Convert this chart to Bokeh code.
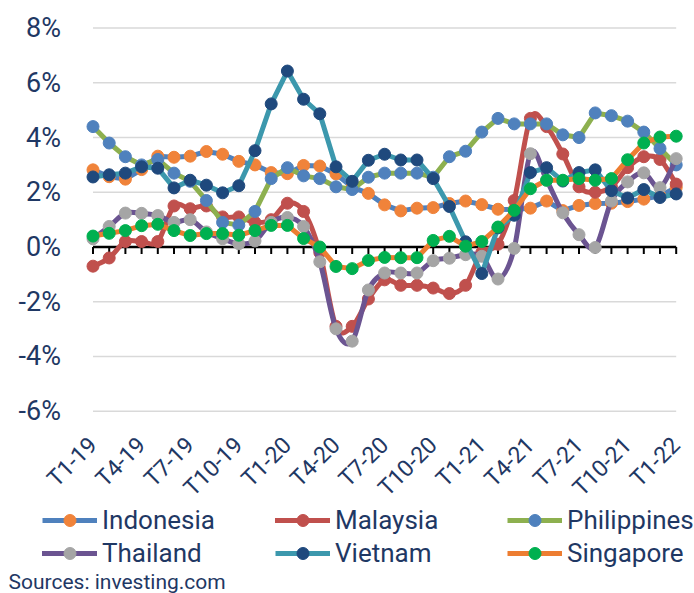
import math
from bokeh.plotting import figure
from bokeh.models import (Range1d, FixedTicker, PrintfTickFormatter, Legend,
                          LegendItem, Label, LinearAxis)
from bokeh.embed import file_html
from bokeh.resources import INLINE

# ---------------- data ----------------
months = ["T1-19", "T2-19", "T3-19", "T4-19", "T5-19", "T6-19", "T7-19", "T8-19",
          "T9-19", "T10-19", "T11-19", "T12-19",
          "T1-20", "T2-20", "T3-20", "T4-20", "T5-20", "T6-20", "T7-20", "T8-20",
          "T9-20", "T10-20", "T11-20", "T12-20",
          "T1-21", "T2-21", "T3-21", "T4-21", "T5-21", "T6-21", "T7-21", "T8-21",
          "T9-21", "T10-21", "T11-21", "T12-21",
          "T1-22"]
tick_labels = ["T1-19", "T4-19", "T7-19", "T10-19", "T1-20", "T4-20", "T7-20",
               "T10-20", "T1-21", "T4-21", "T7-21", "T10-21", "T1-22"]
y_ticks = [-6, -4, -2, 0, 2, 4, 6, 8]

indonesia = [2.82, 2.57, 2.48, 2.83, 3.32, 3.28, 3.32, 3.49, 3.39, 3.13, 3.00, 2.72,
             2.68, 2.98, 2.96, 2.67, 2.19, 1.96, 1.54, 1.32, 1.42, 1.44, 1.59, 1.68,
             1.55, 1.38, 1.37, 1.42, 1.68, 1.33, 1.52, 1.59, 1.60, 1.66, 1.75, 1.87,
             2.18]
malaysia = [-0.7, -0.4, 0.2, 0.2, 0.2, 1.5, 1.4, 1.5, 1.1, 1.1, 0.9, 1.0,
            1.6, 1.3, -0.2, -2.9, -2.9, -1.9, -1.2, -1.4, -1.4, -1.5, -1.7, -1.4,
            -0.2, 0.1, 1.7, 4.7, 4.4, 3.4, 2.2, 2.0, 2.2, 2.9, 3.3, 3.2,
            2.3]
philippines = [4.4, 3.8, 3.3, 3.0, 3.2, 2.7, 2.4, 1.7, 0.9, 0.8, 1.3, 2.5,
               2.9, 2.6, 2.5, 2.2, 2.1, 2.55, 2.7, 2.7, 2.7, 2.55, 3.3, 3.5,
               4.2, 4.7, 4.5, 4.5, 4.5, 4.1, 4.0, 4.9, 4.8, 4.6, 4.2, 3.6,
               3.0]
thailand = [0.3, 0.75, 1.24, 1.23, 1.15, 0.9, 1.0, 0.55, 0.3, 0.12, 0.22, 0.9,
            1.08, 0.75, -0.54, -2.99, -3.44, -1.57, -0.95, -0.95, -0.95, -0.5, -0.41, -0.28,
            -0.34, -1.17, -0.05, 3.41, 2.44, 1.25, 0.45, -0.02, 1.68, 2.38, 2.71, 2.17,
            3.23]
vietnam = [2.56, 2.64, 2.70, 2.93, 2.88, 2.16, 2.44, 2.26, 1.98, 2.24, 3.52, 5.23,
           6.43, 5.40, 4.87, 2.93, 2.40, 3.17, 3.39, 3.18, 3.18, 2.50, 1.48, 0.19,
           -0.97, 0.70, 1.16, 2.72, 2.90, 2.41, 2.72, 2.82, 2.06, 1.79, 2.10, 1.81,
           1.94]
singapore = [0.4, 0.5, 0.6, 0.78, 0.83, 0.6, 0.42, 0.49, 0.49, 0.43, 0.6, 0.79,
             0.79, 0.31, 0.0, -0.71, -0.79, -0.49, -0.38, -0.39, -0.39, 0.24, 0.39, 0.03,
             0.2, 0.73, 1.34, 2.13, 2.44, 2.44, 2.5, 2.44, 2.5, 3.19, 3.8, 4.02,
             4.05]

# ---------------- layout geometry (pixels) ----------------
W, H = 694, 593
PLOT_L, PLOT_R = 92.5, 675.7      # x pixel of first / last month
PLOT_T, PLOT_B = 27.6, 410.7      # y pixel of top / bottom gridline

FONT = "Roboto"
NAVY = "#1F3864"
xs = list(range(len(months)))

px_per_x = (PLOT_R - PLOT_L) / (xs[-1] - xs[0])
px_per_y = (PLOT_B - PLOT_T) / (y_ticks[-1] - y_ticks[0])
x_start = xs[0] - PLOT_L / px_per_x
x_end = xs[-1] + (W - PLOT_R) / px_per_x
y_end = y_ticks[-1] + PLOT_T / px_per_y
y_start = y_ticks[0] - (H - PLOT_B) / px_per_y

series = [
    ("Indonesia", indonesia, "#4F81BD", "#F0833A", False),
    ("Malaysia", malaysia, "#C0504D", "#C0504D", True),
    ("Philippines", philippines, "#8DB04F", "#4F81BD", False),
    ("Thailand", thailand, "#6B5491", "#A5A5A5", True),
    ("Vietnam", vietnam, "#3C98AD", "#1F497D", False),
    ("Singapore", singapore, "#ED7D31", "#00B050", False),
]

p = figure(width=W, height=H, output_backend="svg", toolbar_location=None,
           x_range=Range1d(x_start, x_end), y_range=Range1d(y_start, y_end),
           x_axis_location=None, y_axis_location=None,
           min_border=0, min_border_left=0, min_border_right=0,
           min_border_top=0, min_border_bottom=0)
p.outline_line_color = None
p.background_fill_color = "white"
p.border_fill_color = "white"
p.xgrid.visible = False
p.ygrid.visible = False

# y axis (labels only), placed at first month
yax = LinearAxis(fixed_location=xs[0], ticker=FixedTicker(ticks=y_ticks),
                 formatter=PrintfTickFormatter(format="%d%%"),
                 axis_line_color=None, major_tick_line_color=None,
                 minor_tick_line_color=None,
                 major_label_text_font=FONT, major_label_text_font_size="27px",
                 major_label_text_color=NAVY, major_label_standoff=26)
p.add_layout(yax, "left")

# x axis (labels only), placed at the bottom gridline
tick_pos = [i for i, m in enumerate(months) if m in tick_labels]
xax = LinearAxis(fixed_location=y_ticks[0], ticker=FixedTicker(ticks=tick_pos),
                 major_label_overrides={i: months[i] for i in tick_pos},
                 axis_line_color=None, major_tick_line_color=None,
                 minor_tick_line_color=None,
                 major_label_orientation=math.pi / 4,
                 major_label_text_font=FONT, major_label_text_font_size="23px",
                 major_label_text_color=NAVY, major_label_standoff=24)
p.add_layout(xax, "below")

# horizontal gridlines spanning first..last month
p.segment(x0=[xs[0]] * len(y_ticks), y0=y_ticks, x1=[xs[-1]] * len(y_ticks), y1=y_ticks,
          line_color="#D9D9D9", line_width=1.5)

# zero axis line with monthly tick marks
tick_len = 7 / px_per_y
p.segment(x0=[xs[0]], y0=[0], x1=[xs[-1]], y1=[0], line_color="black", line_width=2.5)
p.segment(x0=xs, y0=[0] * len(xs), x1=xs, y1=[-tick_len] * len(xs),
          line_color="black", line_width=2)

renderers = {}
for name, ys, lc, mc, smooth in series:
    if smooth:
        n = len(ys)
        x0, y0, x1, y1, cx0, cy0, cx1, cy1 = [], [], [], [], [], [], [], []
        for i in range(n - 1):
            im = max(i - 1, 0)
            ip2 = min(i + 2, n - 1)
            x0.append(xs[i]); y0.append(ys[i])
            x1.append(xs[i + 1]); y1.append(ys[i + 1])
            cx0.append(xs[i] + (xs[i + 1] - xs[im]) / 6.0)
            cy0.append(ys[i] + (ys[i + 1] - ys[im]) / 6.0)
            cx1.append(xs[i + 1] - (xs[ip2] - xs[i]) / 6.0)
            cy1.append(ys[i + 1] - (ys[ip2] - ys[i]) / 6.0)
        lr = p.bezier(x0=x0, y0=y0, x1=x1, y1=y1, cx0=cx0, cy0=cy0, cx1=cx1, cy1=cy1,
                      line_color=lc, line_width=5, line_cap="round")
    else:
        lr = p.line(xs, ys, line_color=lc, line_width=5, line_join="round")
    sr = p.scatter(xs, ys, marker="circle", size=12, fill_color=mc, line_color=mc)
    renderers[name] = [lr, sr]

# legend: three columns of two rows
columns = [("Indonesia", "Thailand", 42), ("Malaysia", "Vietnam", 275),
           ("Philippines", "Singapore", 507)]
for a, b, xpix in columns:
    leg = Legend(items=[LegendItem(label=a, renderers=renderers[a]),
                        LegendItem(label=b, renderers=renderers[b])],
                 location=(xpix, H - 568), orientation="vertical",
                 padding=0, margin=0, spacing=3,
                 glyph_width=55, glyph_height=30, label_height=30,
                 label_standoff=5, border_line_color=None,
                 background_fill_alpha=0,
                 label_text_font=FONT, label_text_font_size="26px",
                 label_text_color=NAVY)
    p.add_layout(leg)

p.add_layout(Label(x=8, y=H - 581, x_units="screen", y_units="screen",
                   text="Sources: investing.com", text_baseline="middle",
                   text_font=FONT, text_font_size="21px", text_color=NAVY))

open("out.html", "w").write(file_html(p, INLINE))
